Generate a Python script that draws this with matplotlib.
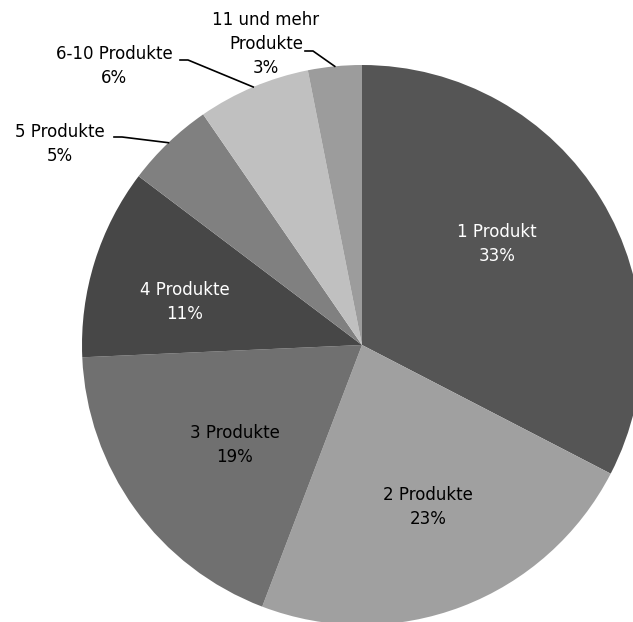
import numpy as np
import matplotlib.pyplot as plt

labels = ["1 Produkt", "2 Produkte", "3 Produkte", "4 Produkte",
          "5 Produkte", "6-10 Produkte", "11 und mehr\nProdukte"]
shares = [32.6, 23.2, 18.5, 11.0, 5.1, 6.5, 3.1]
pct_labels = ["33%", "23%", "19%", "11%", "5%", "6%", "3%"]
colors = ["#555555", "#a0a0a0", "#707070", "#474747", "#808080", "#c0c0c0", "#9c9c9c"]
text_colors = ["white", "black", "black", "white", "black", "black", "black"]

# label anchor positions in figure pixels (x, y from top)
inner_pos = {0: (497, 244), 1: (428, 507), 2: (235, 445), 3: (185, 302)}
outer_pos = {4: (60, 144), 5: (114, 66), 6: (266, 44)}
outer_line_start = {4: (114, 137), 5: (180, 60), 6: (305, 51)}

W, H = 633, 622
center = (362, H - 345)
radius = 280


def main():
    fig = plt.figure(figsize=(W / 100, H / 100), dpi=100)
    ax = fig.add_axes([0, 0, 1, 1])
    wedges, _ = ax.pie(shares, colors=colors, startangle=90, counterclock=False,
                       center=center, radius=radius, frame=True)
    ax.set_xlim(0, W)
    ax.set_ylim(0, H)
    ax.set_aspect("equal")
    ax.axis("off")

    fs = 12
    for i, (px, py) in inner_pos.items():
        ax.text(px, H - py, f"{labels[i]}\n{pct_labels[i]}", ha="center", va="center",
                fontsize=fs, color=text_colors[i], linespacing=1.45)

    for i, (px, py) in outer_pos.items():
        ax.text(px, H - py, f"{labels[i]}\n{pct_labels[i]}", ha="center", va="center",
                fontsize=fs, color="black", linespacing=1.45)
        # leader line: from label to the wedge edge at its mid angle
        w = wedges[i]
        ang = np.deg2rad((w.theta1 + w.theta2) / 2)
        ex = center[0] + radius * np.cos(ang)
        ey = center[1] + radius * np.sin(ang)
        sx, sy = outer_line_start[i]
        ax.plot([sx, sx + 8, ex], [H - sy, H - sy, ey], color="black", linewidth=1.2)

    fig.savefig("out.png", dpi=100)


if __name__ == "__main__":
    main()
